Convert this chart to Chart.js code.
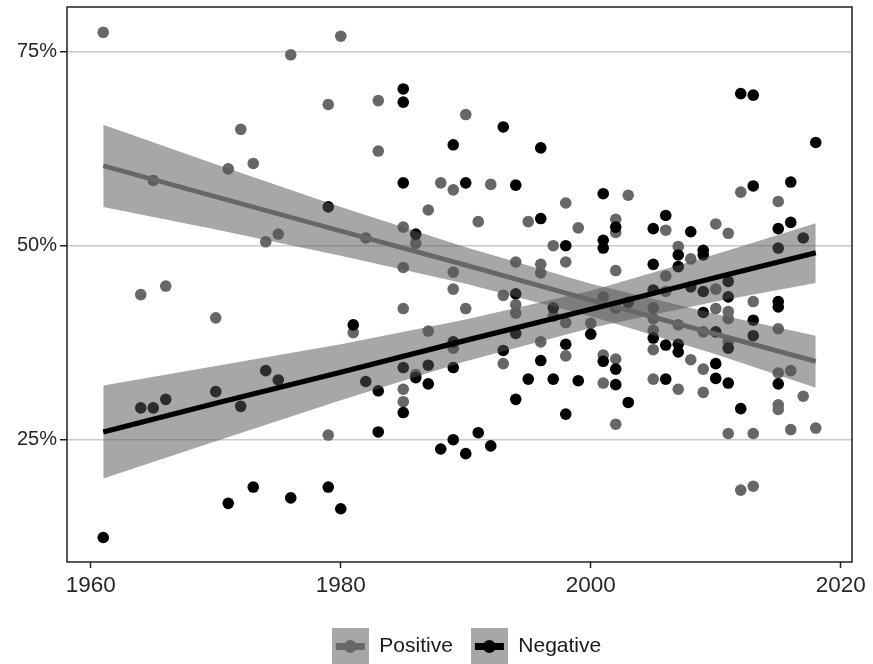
<!DOCTYPE html>
<html>
<head>
<meta charset="utf-8">
<script src="https://cdn.jsdelivr.net/npm/chart.js@4.4.0/dist/chart.umd.min.js"></script>
<style>
  body { margin: 0; background: #fff; }
  #wrap { width: 873px; height: 664px; }
</style>
</head>
<body>
<div id="wrap"><canvas id="chart" width="873" height="664"></canvas></div>
<script>
// observations: year and share (%) for each sentiment group
var posYear = [1961, 1964, 1965, 1966, 1970, 1971, 1972, 1973, 1974, 1975, 1976, 1979, 1979, 1980, 1981, 1982, 1983, 1983,
  1985, 1985, 1985, 1985, 1985, 1986, 1986, 1987, 1987, 1988, 1989, 1989, 1989, 1989, 1990, 1990, 1991, 1992, 1993, 1993,
  1994, 1994, 1994, 1995, 1996, 1996, 1996, 1997, 1997, 1998, 1998, 1998, 1998, 1999, 2000, 2001, 2001, 2001,
  2002, 2002, 2002, 2002, 2002, 2002, 2003, 2005, 2005, 2005, 2005, 2005, 2006, 2006, 2006, 2007, 2007, 2007,
  2008, 2008, 2009, 2009, 2009, 2010, 2010, 2010, 2011, 2011, 2011, 2011, 2011, 2012, 2012, 2013, 2013, 2013,
  2015, 2015, 2015, 2015, 2015, 2016, 2016, 2017, 2018];
var posShare = [77.5, 43.7, 58.4, 44.8, 40.7, 59.9, 65.0, 60.6, 50.5, 51.5, 74.6, 68.2, 25.6, 77.0, 38.8, 51.0, 68.7, 62.2,
  52.4, 47.2, 41.9, 31.5, 29.9, 50.3, 33.4, 54.6, 39.0, 58.1, 57.2, 46.6, 44.4, 36.8, 66.9, 41.9, 53.1, 57.9, 43.6, 34.8,
  47.9, 42.4, 41.3, 53.1, 47.6, 46.5, 37.6, 50.0, 40.9, 55.5, 47.9, 40.1, 35.8, 52.3, 40.0, 43.4, 35.9, 32.3,
  53.4, 51.7, 46.8, 42.0, 35.4, 27.0, 56.5, 42.0, 40.6, 39.1, 36.6, 32.8, 52.0, 46.1, 44.1, 49.9, 39.8, 31.5,
  48.3, 35.3, 38.9, 34.1, 31.1, 52.8, 44.4, 41.9, 51.6, 41.5, 40.6, 37.6, 25.8, 56.9, 18.5, 42.8, 25.8, 19.0,
  55.7, 39.3, 33.6, 29.5, 28.9, 33.9, 26.3, 30.6, 26.5];

var negYear = [1961, 1964, 1965, 1966, 1970, 1971, 1972, 1973, 1974, 1975, 1976, 1979, 1979, 1980, 1981, 1982, 1983, 1983,
  1985, 1985, 1985, 1985, 1985, 1986, 1986, 1987, 1987, 1988, 1989, 1989, 1989, 1989, 1990, 1990, 1991, 1992, 1993, 1993,
  1994, 1994, 1994, 1994, 1995, 1996, 1996, 1996, 1997, 1997, 1998, 1998, 1998, 1999, 2000, 2001, 2001, 2001, 2001,
  2002, 2002, 2002, 2003, 2003, 2005, 2005, 2005, 2005, 2006, 2006, 2006, 2007, 2007, 2007, 2007, 2008, 2008,
  2009, 2009, 2009, 2009, 2010, 2010, 2010, 2011, 2011, 2011, 2011, 2012, 2012, 2013, 2013, 2013, 2013,
  2015, 2015, 2015, 2015, 2015, 2016, 2016, 2017, 2018];
var negShare = [12.4, 29.1, 29.1, 30.2, 31.2, 16.8, 29.3, 18.9, 33.9, 32.7, 17.5, 55.0, 18.9, 16.1, 39.8, 32.5, 31.3, 26.0,
  70.2, 68.5, 58.1, 34.3, 28.5, 51.5, 33.0, 34.6, 32.2, 23.8, 63.0, 37.6, 34.3, 25.0, 58.1, 23.2, 25.9, 24.2, 65.3, 36.5,
  57.8, 43.8, 38.7, 30.2, 32.8, 62.6, 53.5, 35.2, 42.0, 32.8, 50.0, 37.3, 28.3, 32.6, 38.6, 56.7, 50.7, 49.7, 35.1,
  52.4, 34.1, 32.1, 42.7, 29.8, 52.2, 47.6, 44.3, 38.1, 53.9, 37.2, 32.8, 48.8, 47.3, 37.3, 36.3, 51.8, 44.7,
  49.4, 48.8, 44.1, 41.4, 38.9, 34.8, 32.9, 45.4, 43.4, 36.8, 32.3, 69.6, 29.0, 69.4, 57.7, 40.4, 38.4,
  52.2, 49.7, 42.8, 42.1, 32.2, 58.2, 53.0, 51.0, 63.3];

// linear trend and its confidence band, sampled along the year range
var fitYear = [1961, 1970, 1980, 1990, 2000, 2010, 2018];
var posFit  = [60.3, 56.3, 51.9, 47.5, 43.0, 38.6, 35.1];
var posLow  = [55.0, 52.1, 48.7, 45.1, 40.9, 36.0, 31.7];
var posHigh = [65.6, 60.5, 55.0, 49.8, 45.1, 41.2, 38.4];
var negFit  = [26.0, 29.7, 33.7, 37.8, 41.8, 45.9, 49.1];
var negLow  = [20.0, 24.8, 30.1, 35.1, 39.4, 42.8, 45.2];
var negHigh = [32.0, 34.5, 37.3, 40.5, 44.2, 48.9, 52.9];

var yearTicks = [1960, 1980, 2000, 2020];
var shareTicks = [25, 50, 75];
var groupNames = ['Positive', 'Negative'];

var fontFamily = '"Liberation Sans", Arial, Helvetica, sans-serif';
var grey = '#676767';
var bandFill = 'rgba(86, 86, 86, 0.52)';
var noLine = 'rgba(0, 0, 0, 0)';

function toPoints(xs, ys) {
  var pts = [];
  for (var i = 0; i < xs.length; i++) {
    pts.push({ x: xs[i], y: ys[i] });
  }
  return pts;
}

// legend key: band square with the trend line and a dot across it
function makeKey(color) {
  var c = document.createElement('canvas');
  c.width = 37;
  c.height = 37;
  var k = c.getContext('2d');
  k.fillStyle = '#a7a7a7';
  k.fillRect(0, 0, 37, 37);
  k.strokeStyle = color;
  k.lineWidth = 7;
  k.beginPath();
  k.moveTo(4, 18.5);
  k.lineTo(33, 18.5);
  k.stroke();
  k.fillStyle = color;
  k.beginPath();
  k.arc(18.5, 18.5, 6.5, 0, Math.PI * 2);
  k.fill();
  return c;
}

var keys = [makeKey(grey), makeKey('#000')];

// box round the plotting panel
var panelBorder = {
  id: 'panelBorder',
  afterLayout: function(chart) {
    // legend sits a little right of the panel centre
    chart.legend.left += 7;
    chart.legend.right += 7;
  },
  afterDraw: function(chart) {
    var a = chart.chartArea;
    var ctx = chart.ctx;
    ctx.save();
    ctx.strokeStyle = '#1f1f1f';
    ctx.lineWidth = 1.5;
    ctx.strokeRect(a.left, a.top, a.right - a.left, a.bottom - a.top);
    ctx.restore();
  }
};

var ctx = document.getElementById('chart').getContext('2d');
var chart = new Chart(ctx, {
  type: 'scatter',
  data: {
    datasets: [
      { label: groupNames[0], data: toPoints(posYear, posShare), backgroundColor: grey, borderWidth: 0, pointRadius: 5.8, order: 4 },
      { label: groupNames[1], data: toPoints(negYear, negShare), backgroundColor: '#000', borderWidth: 0, pointRadius: 5.8, order: 3 },
      { type: 'line', label: 'posHigh', data: toPoints(fitYear, posHigh), borderColor: noLine, borderWidth: 0, pointRadius: 0, fill: false, order: 2 },
      { type: 'line', label: 'posLow', data: toPoints(fitYear, posLow), borderColor: noLine, borderWidth: 0, pointRadius: 0, fill: '-1', backgroundColor: bandFill, order: 2 },
      { type: 'line', label: 'negHigh', data: toPoints(fitYear, negHigh), borderColor: noLine, borderWidth: 0, pointRadius: 0, fill: false, order: 2 },
      { type: 'line', label: 'negLow', data: toPoints(fitYear, negLow), borderColor: noLine, borderWidth: 0, pointRadius: 0, fill: '-1', backgroundColor: bandFill, order: 2 },
      { type: 'line', label: 'posFit', data: toPoints(fitYear, posFit), borderColor: grey, borderWidth: 4.8, pointRadius: 0, fill: false, order: 1 },
      { type: 'line', label: 'negFit', data: toPoints(fitYear, negFit), borderColor: '#000', borderWidth: 5.2, pointRadius: 0, fill: false, order: 0 }
    ]
  },
  options: {
    responsive: false,
    animation: false,
    events: [],
    layout: { padding: { left: 0, right: 21, top: 7, bottom: -3 } },
    scales: {
      x: {
        type: 'linear',
        min: 1958.1,
        max: 2020.9,
        afterBuildTicks: function(axis) {
          axis.ticks = yearTicks.map(function(v) { return { value: v }; });
        },
        afterFit: function(axis) {
          axis.height = 56;
          axis.paddingLeft = 0;
          axis.paddingRight = 0;
        },
        border: { display: false },
        grid: { drawOnChartArea: false, drawTicks: true, tickLength: 6, tickColor: '#222', tickWidth: 1.5 },
        ticks: {
          color: '#262626',
          padding: 4,
          maxRotation: 0,
          font: { family: fontFamily, size: 22.5 },
          callback: function(v) { return String(v); }
        }
      },
      y: {
        min: 9.24,
        max: 80.76,
        afterBuildTicks: function(axis) {
          axis.ticks = shareTicks.map(function(v) { return { value: v }; });
        },
        afterFit: function(axis) {
          axis.width = 67;
          axis.paddingTop = 0;
          axis.paddingBottom = 0;
        },
        border: { display: false },
        grid: { color: '#cacaca', lineWidth: 1.5, tickColor: '#222', tickLength: 7, tickWidth: 1.5 },
        ticks: {
          color: '#262626',
          padding: 3,
          font: { family: fontFamily, size: 20 },
          callback: function(v) { return v + '%'; }
        }
      }
    },
    plugins: {
      tooltip: { enabled: false },
      legend: {
        position: 'bottom',
        fullSize: false,
        labels: {
          usePointStyle: true,
          pointStyleWidth: 37,
          padding: 18,
          color: '#1a1a1a',
          font: { family: fontFamily, size: 21 },
          generateLabels: function() {
            return groupNames.map(function(name, i) {
              return { text: name, pointStyle: keys[i], datasetIndex: i, hidden: false, lineWidth: 0, fontColor: '#1a1a1a' };
            });
          }
        }
      }
    }
  },
  plugins: [panelBorder]
});
</script>
</body>
</html>
